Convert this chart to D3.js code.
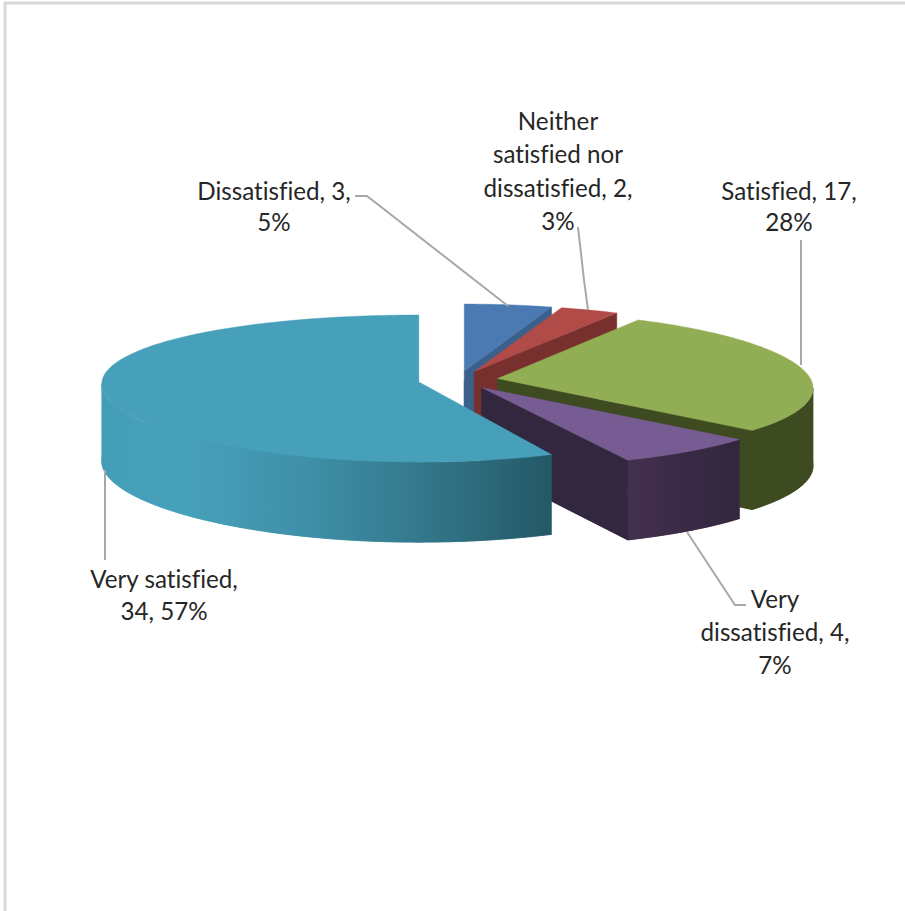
<!DOCTYPE html>
<html>
<head>
<meta charset="utf-8">
<script src="https://cdnjs.cloudflare.com/ajax/libs/d3/7.8.5/d3.min.js"></script>
<style>
html,body{margin:0;padding:0;background:#fff;}
svg{display:block;}
text{font-family:Lato,"Open Sans",sans-serif;font-size:24.2px;font-variant-ligatures:none;fill:#262626;text-anchor:middle;dominant-baseline:central;}
</style>
</head>
<body>
<svg id="chart" width="905" height="911"></svg>
<script>
const categories = ["Dissatisfied", "Neither satisfied nor dissatisfied", "Satisfied", "Very dissatisfied", "Very satisfied"];
const values = [3, 2, 17, 4, 34];
const labelLines = [
  ["Dissatisfied, 3,", "5%"],
  ["Neither", "satisfied nor", "dissatisfied, 2,", "3%"],
  ["Satisfied, 17,", "28%"],
  ["Very", "dissatisfied, 4,", "7%"],
  ["Very satisfied,", "34, 57%"]
];
const topColors = ["#4a7ab1", "#b04b47", "#91ae55", "#775b93", "#46a0b9"];
const faceColors = ["#3a608c", "#78302e", "#3e4a20", "#32273f", "#245866"];
const wallStops = [
  [[0, "#3a608c"], [1, "#3a608c"]],
  [[0, "#78302e"], [1, "#78302e"]],
  [[0, "#3e4a20"], [1, "#3e4a20"]],
  [[0, "#44304f"], [0.5, "#3a2a46"], [1, "#32273f"]],
  [[0, "#449db6"], [0.1, "#46a0b9"], [0.2, "#46a0b9"], [0.44, "#3f91a9"], [0.66, "#367d92"], [0.84, "#2d6a7b"], [1, "#245866"]]
];
// layout of the labels and leader lines (pixels)
const labelPos = [[274, 190], [558, 119.5], [789, 190], [775, 598], [164, 578]];
const lineStep = [31, 33.5, 31, 33, 32];
const leaders = [
  [[355, 196], [367, 196], [508, 306]],
  [[578, 227], [584, 280], [588, 310]],
  [[801, 240], [801, 365]],
  [[687, 532], [735, 605], [746, 605]],
  [[105, 470], [105, 560]]
];
// horizontal foreshortening and width scale of each slice's rim
const xPersp = [0.13, 0.13, 0.13, 0.13, 0.03];
const rimScale = [1, 1, 0.987, 1, 1];

const cx = 458, cy = 380, R = 317, explode = 40, RY = 73, persp = 0.09, apexDepth = 78;
const TAU = Math.PI * 2;

function project(theta, r, k, s) {
  const sx = Math.sin(theta) * r / R, p = -Math.cos(theta) * r / R;
  return [cx + s * sx * R / (1 - k * p), cy + RY * p / (1 - persp * p)];
}
const depth = theta => 77 + 3 * Math.max(0, -Math.cos(theta));

const svg = d3.select("#chart");
const defs = svg.append("defs");

svg.append("path")
  .attr("d", "M5 911V3H905")
  .attr("fill", "none").attr("stroke", "#d9d9d9").attr("stroke-width", 3);

const arcs = d3.pie().sort(null).startAngle(0).endAngle(TAU)(values);
const line = d3.line();

function rimPoints(a0, a1, ox, oy, extrude, k, s) {
  const n = Math.max(2, Math.ceil((a1 - a0) / 0.02));
  return d3.range(n + 1).map(i => {
    const t = a0 + (a1 - a0) * i / n, q = project(t, R, k, s);
    return [q[0] + ox, q[1] + oy + (extrude ? depth(t) : 0)];
  });
}

const slices = svg.selectAll("g.slice").data(arcs).join("g").attr("class", "slice");

slices.each(function (d, i) {
  const g = d3.select(this);
  const mid = (d.startAngle + d.endAngle) / 2;
  const off = project(mid, explode, 0, 1);
  const ox = off[0] - cx, oy = off[1] - cy;
  const apex = [cx + ox, cy + oy];
  const k = xPersp[i], s = rimScale[i];

  const upperAll = rimPoints(d.startAngle, d.endAngle, ox, oy, false, k, s);
  const lowerAll = rimPoints(d.startAngle, d.endAngle, ox, oy, true, k, s);
  const xs = upperAll.map(q => q[0]);
  const id = "wall" + i;
  const grad = defs.append("linearGradient").attr("id", id)
    .attr("gradientUnits", "userSpaceOnUse")
    .attr("x1", d3.min(xs)).attr("x2", d3.max(xs)).attr("y1", 0).attr("y2", 0);
  wallStops[i].forEach(st => grad.append("stop").attr("offset", st[0]).attr("stop-color", st[1]));

  // bottom cap plus the rim swept between its horizontal extremes form the silhouette
  g.append("path")
    .attr("d", line([[apex[0], apex[1] + apexDepth]].concat(lowerAll)) + "Z")
    .attr("fill", `url(#${id})`).attr("stroke", `url(#${id})`).attr("stroke-width", 0.6);

  const sideAngle = Math.acos(-k);
  const w0 = Math.max(d.startAngle, sideAngle), w1 = Math.min(d.endAngle, TAU - sideAngle);
  if (w1 > w0) {
    const upper = rimPoints(w0, w1, ox, oy, false, k, s);
    const lower = rimPoints(w0, w1, ox, oy, true, k, s).reverse();
    g.append("path").attr("d", line(upper.concat(lower)) + "Z")
      .attr("fill", `url(#${id})`)
      .attr("stroke", `url(#${id})`).attr("stroke-width", 0.6);
  }

  // radial cut faces that turn toward the viewer
  const faceAngles = [];
  if (d.endAngle < Math.PI) faceAngles.push(d.endAngle);
  if (d.startAngle > Math.PI) faceAngles.push(d.startAngle);
  faceAngles.forEach(t => {
    const q = project(t, R, k, s), rim = [q[0] + ox, q[1] + oy], dp = depth(t);
    g.append("path")
      .attr("d", line([apex, rim, [rim[0], rim[1] + dp], [apex[0], apex[1] + apexDepth]]) + "Z")
      .attr("fill", faceColors[i])
      .attr("stroke", faceColors[i]).attr("stroke-width", 0.6);
  });

  // top surface
  g.append("path")
    .attr("d", line([apex].concat(upperAll)) + "Z")
    .attr("fill", topColors[i])
    .attr("stroke", topColors[i]).attr("stroke-width", 0.4);
});

svg.selectAll("path.leader").data(leaders).join("path")
  .attr("class", "leader")
  .attr("d", d => line(d))
  .attr("fill", "none").attr("stroke", "#a8a8a8").attr("stroke-width", 2);

svg.selectAll("text.label").data(labelLines).join("text")
  .attr("class", "label")
  .attr("data-category", (d, i) => categories[i])
  .each(function (lines, i) {
    d3.select(this).selectAll("tspan").data(lines).join("tspan")
      .attr("x", labelPos[i][0])
      .attr("y", (l, j) => labelPos[i][1] + j * lineStep[i])
      .text(l => l);
  });
</script>
</body>
</html>
